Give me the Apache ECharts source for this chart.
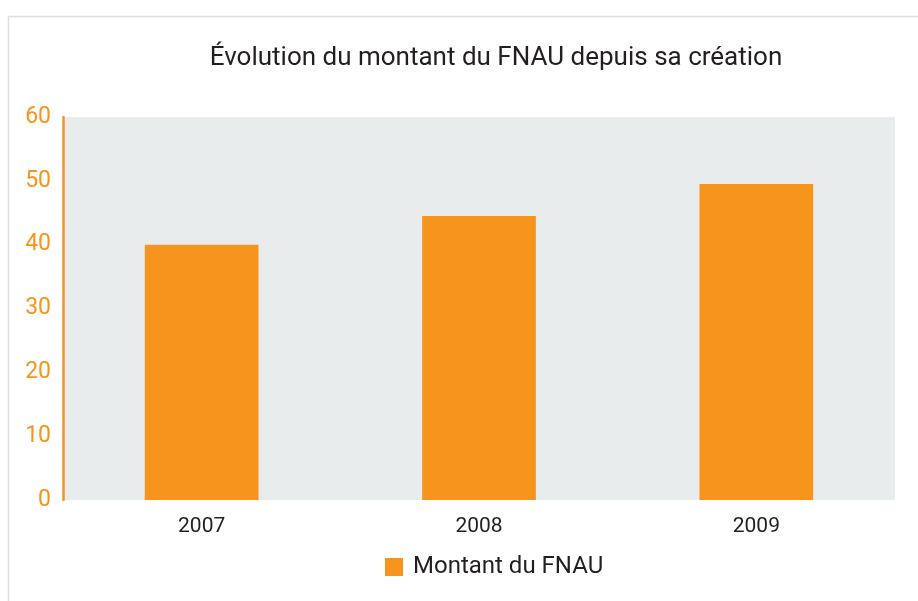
<!DOCTYPE html>
<html>
<head>
<meta charset="utf-8">
<script src="https://cdn.jsdelivr.net/npm/echarts@6/dist/echarts.min.js"></script>
<style>
  html, body { margin: 0; padding: 0; background: #fff; }
  #chart { width: 918px; height: 601px; }
</style>
</head>
<body>
<div id="chart"></div>
<script>
const years = ['2007', '2008', '2009']
const montant = [40, 44.5, 49.5]
const yTicks = [0, 10, 20, 30, 40, 50, 60]

const orange = '#f7941d'
const font = 'Roboto, sans-serif'

const chart = echarts.init(document.getElementById('chart'))

chart.setOption({
  animation: false,
  title: {
    text: 'Évolution du montant du FNAU depuis sa création',
    left: 491,
    textAlign: 'center',
    top: 40,
    textStyle: { fontFamily: font, fontSize: 26, fontWeight: 'normal', color: '#231f20' }
  },
  graphic: [{
    type: 'rect',
    shape: { x: 8.5, y: 16.5, width: 940, height: 620 },
    style: { fill: 'none', stroke: '#d9dfe3', lineWidth: 1.5 },
    silent: true
  }],
  legend: {
    bottom: 22,
    left: 385,
    padding: 0,
    itemWidth: 18,
    itemHeight: 18,
    icon: 'rect',
    textStyle: { fontFamily: font, fontSize: 24, color: '#231f20', padding: [0, 0, 0, 5] },
    data: ['Montant du FNAU']
  },
  grid: {
    left: 63,
    right: 23,
    top: 117,
    bottom: 101,
    show: true,
    backgroundColor: '#e8eced',
    borderWidth: 0
  },
  xAxis: {
    type: 'category',
    data: years,
    axisLine: { show: false },
    axisTick: { show: false },
    axisLabel: { fontFamily: font, fontSize: 21, color: '#231f20', margin: 16 }
  },
  yAxis: {
    type: 'value',
    min: yTicks[0],
    max: yTicks[yTicks.length - 1],
    interval: 10,
    axisLine: { show: true, lineStyle: { color: orange, width: 2.5 } },
    axisTick: { show: false },
    splitLine: { show: false },
    axisLabel: { fontFamily: font, fontSize: 23, color: orange, margin: 12 }
  },
  series: [{
    name: 'Montant du FNAU',
    type: 'bar',
    data: montant,
    barWidth: '41%',
    itemStyle: { color: orange }
  }]
})
</script>
</body>
</html>
